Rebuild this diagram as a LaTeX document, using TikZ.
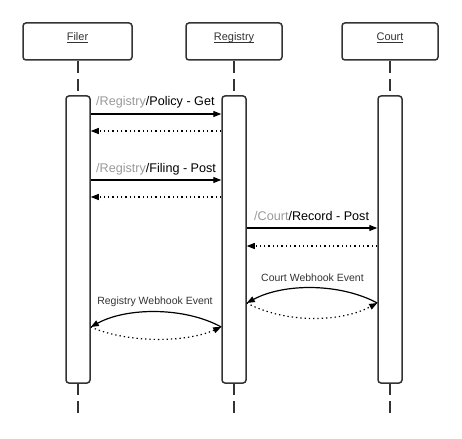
\documentclass[tikz,border=0pt]{standalone}
\usepackage{fontspec}
\setmainfont{Liberation Sans}
\usetikzlibrary{arrows.meta}
\definecolor{linegray}{HTML}{333333}
\definecolor{pathgray}{HTML}{999999}

\begin{document}
\begin{tikzpicture}[x=1pt,y=-1pt]
        \tikzstyle{head}=[draw=linegray,line width=1.5pt,rounded corners=3pt,minimum width=96pt,minimum height=37pt,text=linegray,font=\fontsize{11}{13}\selectfont]
        \tikzstyle{bar}=[draw=linegray,fill=white,line width=1.5pt,rounded corners=3pt,minimum width=24pt,minimum height=287pt]
        \tikzstyle{lifeline}=[draw=linegray,line width=1.5pt,dash pattern=on 12pt off 6pt]
        \tikzstyle{call}=[draw=black,line width=1.2pt,-{Triangle[length=8pt,width=6pt]}]
        \tikzstyle{reply}=[call,dash pattern=on 1.3pt off 3pt]
        \tikzstyle{msg}=[anchor=base west,inner sep=0pt,font=\fontsize{12.6}{15}\selectfont]
        \tikzstyle{event}=[inner sep=0pt,text=linegray,font=\fontsize{10.5}{12}\selectfont]
  \useasboundingbox (0,0) rectangle (462,438);
  \node[head,minimum width=109pt] (Head_F) at (77.5,41.5) {\underline{\smash{Filer}}};
  \node[head] (Head_R) at (234,41.5) {\underline{\smash{Registry}}};
  \node[head] (Head_C) at (390,41.5) {\underline{\smash{Court}}};
  \coordinate (End_F) at (78,413);
  \coordinate (End_R) at (234,413);
  \coordinate (End_C) at (390,413);
  \draw[lifeline] (Head_F.south -| End_F) -- (78,96);
  \draw[lifeline] (Head_R) -- (234,96);
  \draw[lifeline] (Head_C) -- (390,96);
  \draw[lifeline] (78,383) -- (End_F);
  \draw[lifeline] (234,383) -- (End_R);
  \draw[lifeline] (390,383) -- (End_C);
  \node[bar] (Bar_F) at (78,239.5) {};
  \node[bar] (Bar_R) at (234,239.5) {};
  \node[bar] (Bar_C) at (390,239.5) {};
  % calls and replies
  \draw[call] (Bar_F.east |- 0,114) -- (Bar_R.west |- 0,114);
  \node[msg] (Msg_1) at (96,106) {\textcolor{pathgray}{/Registry}/Policy - Get};
  \draw[reply] (Bar_R.west |- 0,131) -- (Bar_F.east |- 0,131);
  \draw[call] (Bar_F.east |- 0,180) -- (Bar_R.west |- 0,180);
  \node[msg] (Msg_2) at (96,172.5) {\textcolor{pathgray}{/Registry}/Filing - Post};
  \draw[reply] (Bar_R.west |- 0,197) -- (Bar_F.east |- 0,197);
  \draw[call] (Bar_R.east |- 0,228) -- (Bar_C.west |- 0,228);
  \node[msg] (Msg_3) at (254,220.5) {\textcolor{pathgray}{/Court}/Record - Post};
  \draw[reply] (Bar_C.west |- 0,246) -- (Bar_R.east |- 0,246);
  % webhooks
  \draw[call] (Bar_C.west |- 0,303) .. controls (340,283) and (284,283) .. (Bar_R.east |- 0,303);
  \draw[reply] (Bar_R.east |- 0,303) .. controls (284,323) and (340,323) .. (Bar_C.west |- 0,303);
  \node[event] (Evt_C) at (312.5,278) {Court Webhook Event};
  \draw[call] (Bar_R.west |- 0,327) .. controls (185,307) and (127,307) .. (Bar_F.east |- 0,327);
  \draw[reply] (Bar_F.east |- 0,327) .. controls (127,343) and (185,343) .. (Bar_R.west |- 0,327);
  \node[event] (Evt_R) at (155,302) {Registry Webhook Event};
    \end{tikzpicture}
\end{document}
